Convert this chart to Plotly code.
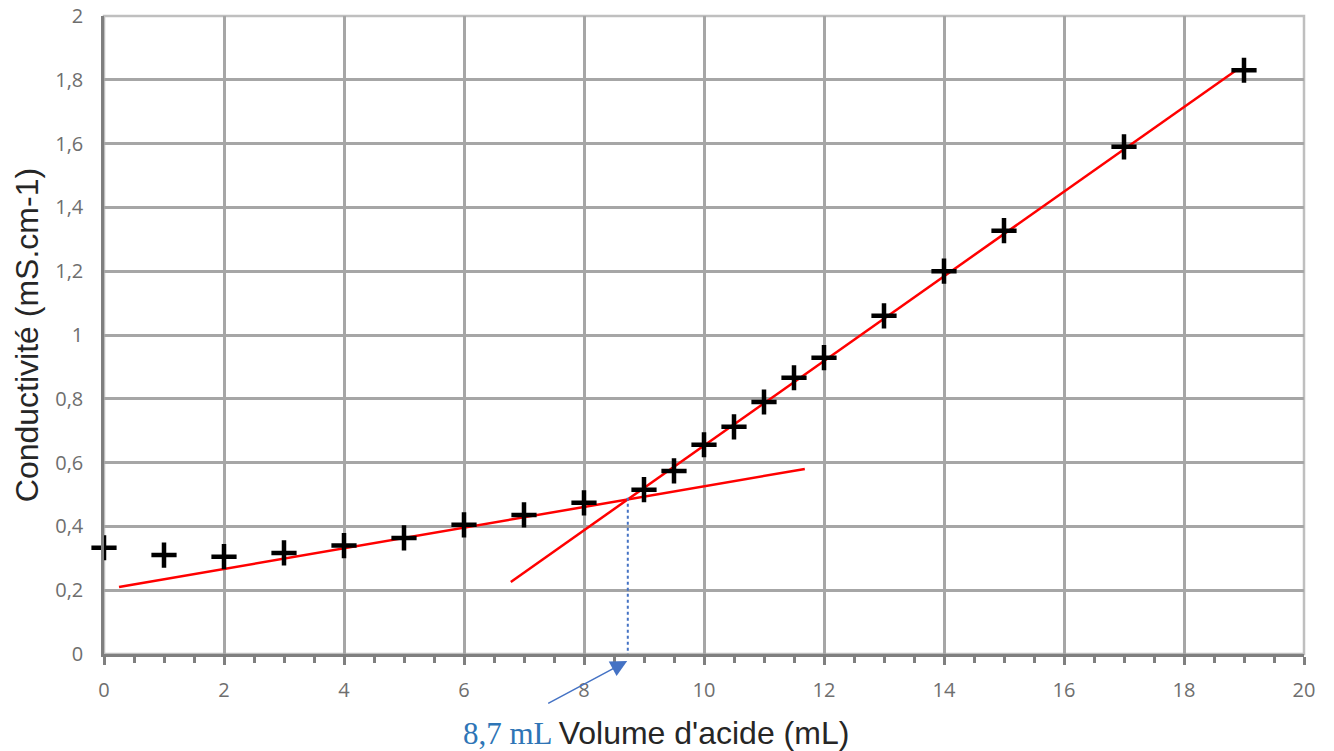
import plotly.graph_objects as go

volume = [0, 1, 2, 3, 4, 5, 6, 7, 8, 9, 9.5, 10, 10.5, 11, 11.5, 12, 13, 14, 15, 17, 19]
conductivite = [0.333, 0.31, 0.305, 0.317, 0.34, 0.364, 0.405, 0.436, 0.474, 0.515, 0.574,
                0.656, 0.712, 0.79, 0.866, 0.929, 1.06, 1.2, 1.327, 1.59, 1.83]

fit1_x = [0.25, 11.68]
fit1_y = [0.21, 0.58]
fit2_x = [6.78, 18.87]
fit2_y = [0.226, 1.83]

equiv_x = [8.73, 8.73]
equiv_y = [0.49, 0.0]
equiv_label = "8,7 mL"

x_title = "Volume d'acide (mL)"
y_title = "Conductivité (mS.cm-1)"

x_ticks = list(range(0, 21, 2))
y_ticks = [0, 0.2, 0.4, 0.6, 0.8, 1.0, 1.2, 1.4, 1.6, 1.8, 2.0]
y_ticktext = ["0", "0,2", "0,4", "0,6", "0,8", "1", "1,2", "1,4", "1,6", "1,8", "2"]

fig = go.Figure()
fig.add_trace(go.Scatter(x=fit1_x, y=fit1_y, mode="lines",
                         line=dict(color="#ff0000", width=2.5), showlegend=False))
fig.add_trace(go.Scatter(x=fit2_x, y=fit2_y, mode="lines",
                         line=dict(color="#ff0000", width=2.5), showlegend=False))
fig.add_trace(go.Scatter(x=equiv_x, y=equiv_y, mode="lines",
                         line=dict(color="#4472c4", width=2, dash="dot"), showlegend=False))
fig.add_trace(go.Scatter(x=volume, y=conductivite, mode="markers",
                         marker=dict(symbol="cross-thin", size=18, color="black",
                                     line=dict(color="black", width=4.5)),
                         showlegend=False, cliponaxis=False))

# arrow pointing at the equivalence volume on the x axis
fig.add_annotation(x=8.72, y=-0.011, xref="x", yref="paper",
                   ax=-82, ay=44, axref="pixel", ayref="pixel",
                   showarrow=True, arrowhead=2, arrowsize=2.2, arrowwidth=1.5,
                   arrowcolor="#4472c4", text=" ", standoff=0, startstandoff=0)
fig.add_annotation(x=6.73, y=-0.124, xref="x", yref="paper", text=equiv_label,
                   showarrow=False, xanchor="center", yanchor="middle",
                   font=dict(family="Liberation Serif", size=31, color="#2e75b6"))
# y axis title
fig.add_annotation(x=-0.064, y=0.5, xref="paper", yref="paper", text=y_title,
                   textangle=-90, showarrow=False, xanchor="center", yanchor="middle",
                   font=dict(family="Liberation Sans", size=32, color="#262626"))

fig.update_layout(
    width=1334, height=751,
    margin=dict(l=104, r=30, t=16, b=97, autoexpand=False),
    paper_bgcolor="white", plot_bgcolor="white",
    font=dict(family="Open Sans", color="#595959"),
    xaxis=dict(range=[0, 20], tickvals=x_ticks, showgrid=True, gridcolor="#a6a6a6",
               gridwidth=2.5, showline=True, linecolor="#7f7f7f", linewidth=2.5,
               ticks="outside", ticklen=8, tickwidth=2.5, tickcolor="#7f7f7f",
               ticklabelstandoff=8, ticklabeloverflow="allow",
               tickfont=dict(size=20, color="#6e6e6e"), zeroline=False, automargin=False,
               minor=dict(dtick=0.5, ticks="outside", ticklen=6, tickwidth=2.5,
                          tickcolor="#7f7f7f", showgrid=False),
               title=dict(text=x_title, standoff=28,
                          font=dict(family="Liberation Sans", size=32, color="#262626"))),
    yaxis=dict(range=[0, 2], tickvals=y_ticks, ticktext=y_ticktext, showgrid=True,
               gridcolor="#a6a6a6", gridwidth=2.5, showline=True, linecolor="#7f7f7f",
               linewidth=2.5, ticks="", zeroline=False, automargin=False,
               ticklabelstandoff=14, ticklabeloverflow="allow",
               tickfont=dict(size=20, color="#6e6e6e")),
)
fig.add_shape(type="rect", xref="paper", yref="paper", x0=0, y0=0, x1=1, y1=1,
              line=dict(color="#bfbfbf", width=2.5), layer="below")

fig.write_html("out.html", config={"displayModeBar": False},
               post_script="document.body.style.margin='0';document.body.style.overflow='hidden';")
